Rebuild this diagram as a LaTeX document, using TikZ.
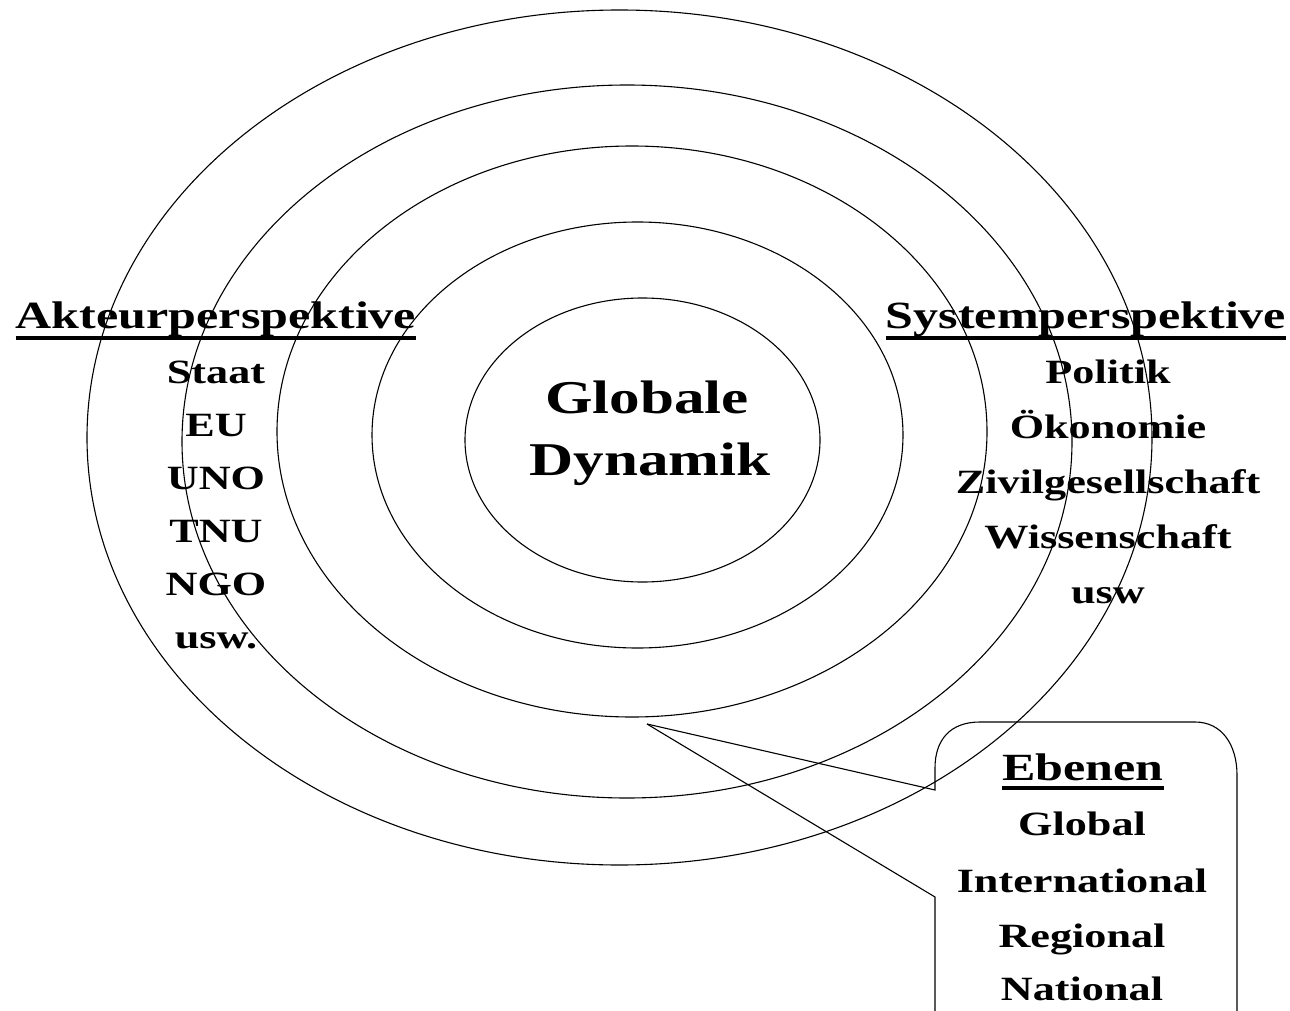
\documentclass[tikz,border=0pt]{standalone}
\usepackage{fontspec}
\newfontfamily\wideserif[FakeStretch=1.3]{Liberation Serif}
\usepackage{tikz}

\tikzset{
  ring/.style={line width=1.1pt},
  lbl/.style={inner sep=0pt, anchor=base, font=\wideserif\bfseries\fontsize{34}{40}\selectfont},
  head/.style={lbl, font=\wideserif\bfseries\fontsize{38.5}{46}\selectfont},
  big/.style={lbl, font=\wideserif\bfseries\fontsize{47}{56}\selectfont},
  ul/.style={line width=4pt}
}

\begin{document}
\begin{tikzpicture}[x=1pt,y=-1pt]
\useasboundingbox (0,0) rectangle (1290,1011);
\draw[ring] (619.5,437.5) ellipse [x radius=532.5, y radius=427.5];
\draw[ring] (627,441.5) ellipse [x radius=445, y radius=356.5];
\draw[ring] (632,431.5) ellipse [x radius=355, y radius=285.5];
\draw[ring] (637.5,435) ellipse [x radius=265.5, y radius=213];
\draw[ring] (642.5,440) ellipse [x radius=177.5, y radius=142];

\node[big] (globale) at (647,413) {Globale};
\node[big] (dynamik) at (650,475) {Dynamik};

\node[head] (akteur) at (216,328) {Akteurperspektive};
\draw[ul] ([yshift=-10pt]akteur.base west) -- ([yshift=-10pt]akteur.base east);
\node[lbl] (staat) at (216,383) {Staat};
\node[lbl] (eu) at (216,436) {EU};
\node[lbl] (uno) at (216,489) {UNO};
\node[lbl] (tnu) at (216,542) {TNU};
\node[lbl] (ngo) at (216,595) {NGO};
\node[lbl] (uswa) at (216,648) {usw.};

\node[head] (system) at (1086,328) {Systemperspektive};
\draw[ul] ([yshift=-10pt]system.base west) -- ([yshift=-10pt]system.base east);
\node[lbl] (politik) at (1108,383) {Politik};
\node[lbl] (oekonomie) at (1108,438) {Ökonomie};
\node[lbl] (zivil) at (1108,493) {Zivilgesellschaft};
\node[lbl] (wissen) at (1108,548) {Wissenschaft};
\node[lbl] (usws) at (1108,603) {usw};

\coordinate (tip) at (647,724);
\coordinate (hook) at (935,790);
\coordinate (foot) at (935,897);
\draw[ring] (tip) -- (hook) -- (935,768) .. controls (935,740) and (950,722) .. (980,722) -- (1195,722) .. controls (1222,722) and (1237,745) .. (1237,775) -- (1237,1011);
\draw[ring] (tip) -- (foot) -- (935,1011);

\node[head] (ebenen) at (1083,780) {Ebenen};
\draw[ul] ([yshift=-8pt]ebenen.base west) -- ([yshift=-8pt]ebenen.base east);
\node[lbl] (global) at (1082,835) {Global};
\node[lbl] (inter) at (1082,892) {International};
\node[lbl] (regional) at (1082,947) {Regional};
\node[lbl] (national) at (1082,1000) {National};
\end{tikzpicture}
\end{document}
